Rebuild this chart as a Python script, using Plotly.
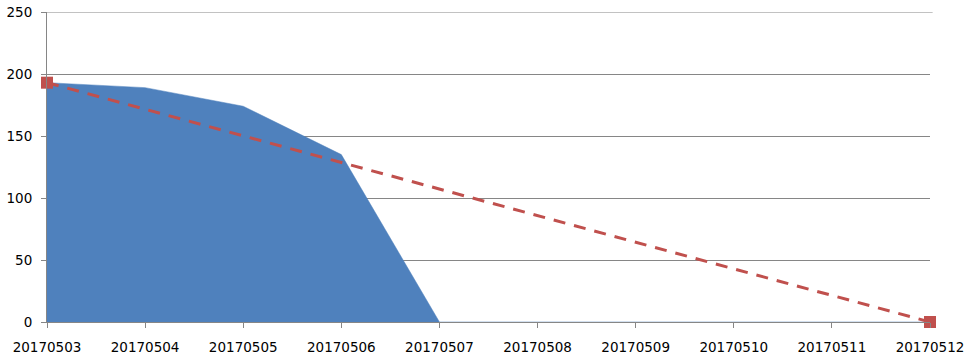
import plotly.graph_objects as go

dates = ["20170503", "20170504", "20170505", "20170506", "20170507",
         "20170508", "20170509", "20170510", "20170511", "20170512"]
remaining = [193, 189, 174, 135, 0, 0, 0, 0, 0, 0]
ideal_x = ["20170503", "20170512"]
ideal_y = [193, 0]
y_ticks = [0, 50, 100, 150, 200, 250]
y_max = 250

fig = go.Figure()
fig.add_trace(go.Scatter(
    x=dates, y=remaining, mode="lines", fill="tozeroy",
    line=dict(color="#4F81BD", width=0.5), fillcolor="#4F81BD",
    name="Remaining", showlegend=False))
fig.add_trace(go.Scatter(
    x=ideal_x, y=ideal_y, mode="lines+markers",
    line=dict(color="#C0504D", width=3, dash="12px,9px"),
    marker=dict(symbol="square", size=12, color="#C0504D"),
    cliponaxis=False, name="Ideal", showlegend=False))

# top gridline (plotly omits the gridline lying on the plot edge)
fig.add_shape(type="line", xref="paper", yref="y", x0=0, x1=1.003,
              y0=y_max, y1=y_max, line=dict(color="#868686", width=1), layer="below")

fig.update_layout(
    width=972, height=359,
    margin=dict(l=47, r=42, t=12, b=37),
    paper_bgcolor="white", plot_bgcolor="white",
    font=dict(family="DejaVu Sans, sans-serif", size=13.5, color="#000000"),
    xaxis=dict(type="category", categoryorder="array", categoryarray=dates,
               range=[0, 9], showgrid=False, showline=True, linecolor="#868686",
               linewidth=1, ticks="outside", ticklen=5, tickcolor="#868686",
               automargin=False, ticklabelstandoff=8),
    yaxis=dict(range=[0, y_max], tickvals=y_ticks, showgrid=True,
               gridcolor="#868686", gridwidth=1, showline=True, linecolor="#868686",
               linewidth=1, ticks="outside", ticklen=5, tickcolor="#868686",
               zeroline=False, automargin=False, ticklabelstandoff=6),
)
fig.write_html("out.html", config={"displayModeBar": False},
               post_script="document.body.style.margin='0px';")
